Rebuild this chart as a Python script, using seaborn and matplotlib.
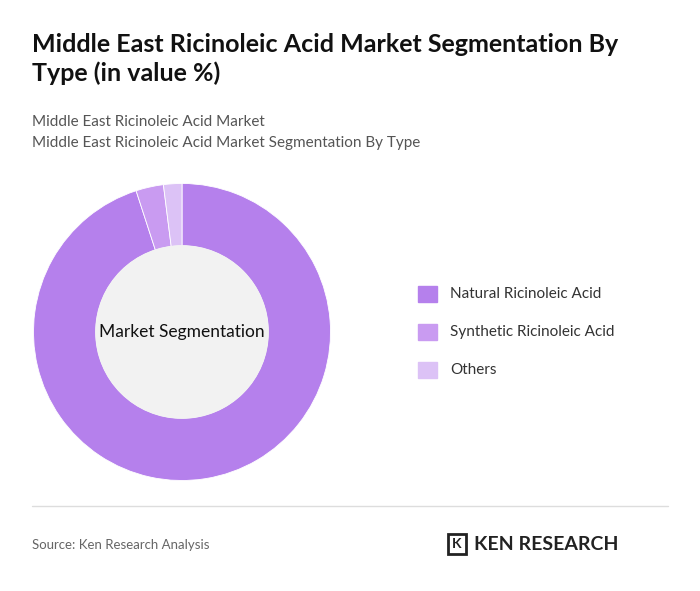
import matplotlib
matplotlib.use("Agg")
import matplotlib.pyplot as plt
import seaborn as sns

sns.set_theme(style="white")
plt.rcParams["font.family"] = ["Lato", "DejaVu Sans"]

segments = ["Natural Ricinoleic Acid", "Synthetic Ricinoleic Acid", "Others"]
shares = [95, 3, 2]
colors = ["#b580ec", "#c99bf1", "#dcc2f6"]

fig = plt.figure(figsize=(7, 5.91), dpi=100)
fig.patch.set_facecolor("white")

fig.text(0.046, 0.945, "Middle East Ricinoleic Acid Market Segmentation By\nType (in value %)",
         fontsize=18, fontweight="bold", color="#111111", va="top", linespacing=1.3)
fig.text(0.046, 0.805, "Middle East Ricinoleic Acid Market", fontsize=11, color="#555555", va="top")
fig.text(0.046, 0.770, "Middle East Ricinoleic Acid Market Segmentation By Type",
         fontsize=11, color="#555555", va="top")

ax = fig.add_axes([32 / 700, 109 / 591, 300 / 700, 300 / 591])
ax.pie(shares, colors=colors, startangle=90, counterclock=False,
       wedgeprops=dict(width=0.42, edgecolor="white", linewidth=0.6))
ax.add_patch(plt.Circle((0, 0), 0.58, color="#f2f2f2", zorder=3))
ax.text(0, 0, "Market Segmentation", ha="center", va="center", fontsize=12.5,
        color="#111111", zorder=4)
ax.set_xlim(-1.01, 1.01)
ax.set_ylim(-1.01, 1.01)
ax.set_aspect("equal")

for i, (name, col) in enumerate(zip(segments, colors)):
    y = 1 - (294 + 38 * i) / 591
    fig.patches.append(plt.Rectangle((418 / 700, y - 8 / 591), 19 / 700, 16 / 591,
                                     transform=fig.transFigure, color=col))
    fig.text(450 / 700, y, name, fontsize=11, color="#333333", va="center")

fig.add_artist(plt.Line2D([32 / 700, 668 / 700], [1 - 506 / 591] * 2, color="#dddddd", lw=1))
fig.text(0.046, 1 - 545 / 591, "Source: Ken Research Analysis", fontsize=9.5,
         color="#666666", va="center")
fig.patches.append(plt.Rectangle((448 / 700, 1 - 554 / 591), 18 / 700, 20 / 591,
                                 transform=fig.transFigure, fill=False, ec="#222222", lw=2))
fig.text(457 / 700, 1 - 544 / 591, "K", fontsize=10, fontweight="bold", ha="center",
         va="center", color="#222222")
fig.text(474 / 700, 1 - 544 / 591, "KEN RESEARCH", fontsize=14, fontweight="bold",
         color="#222222", va="center")

fig.savefig("out.png", dpi=100)
